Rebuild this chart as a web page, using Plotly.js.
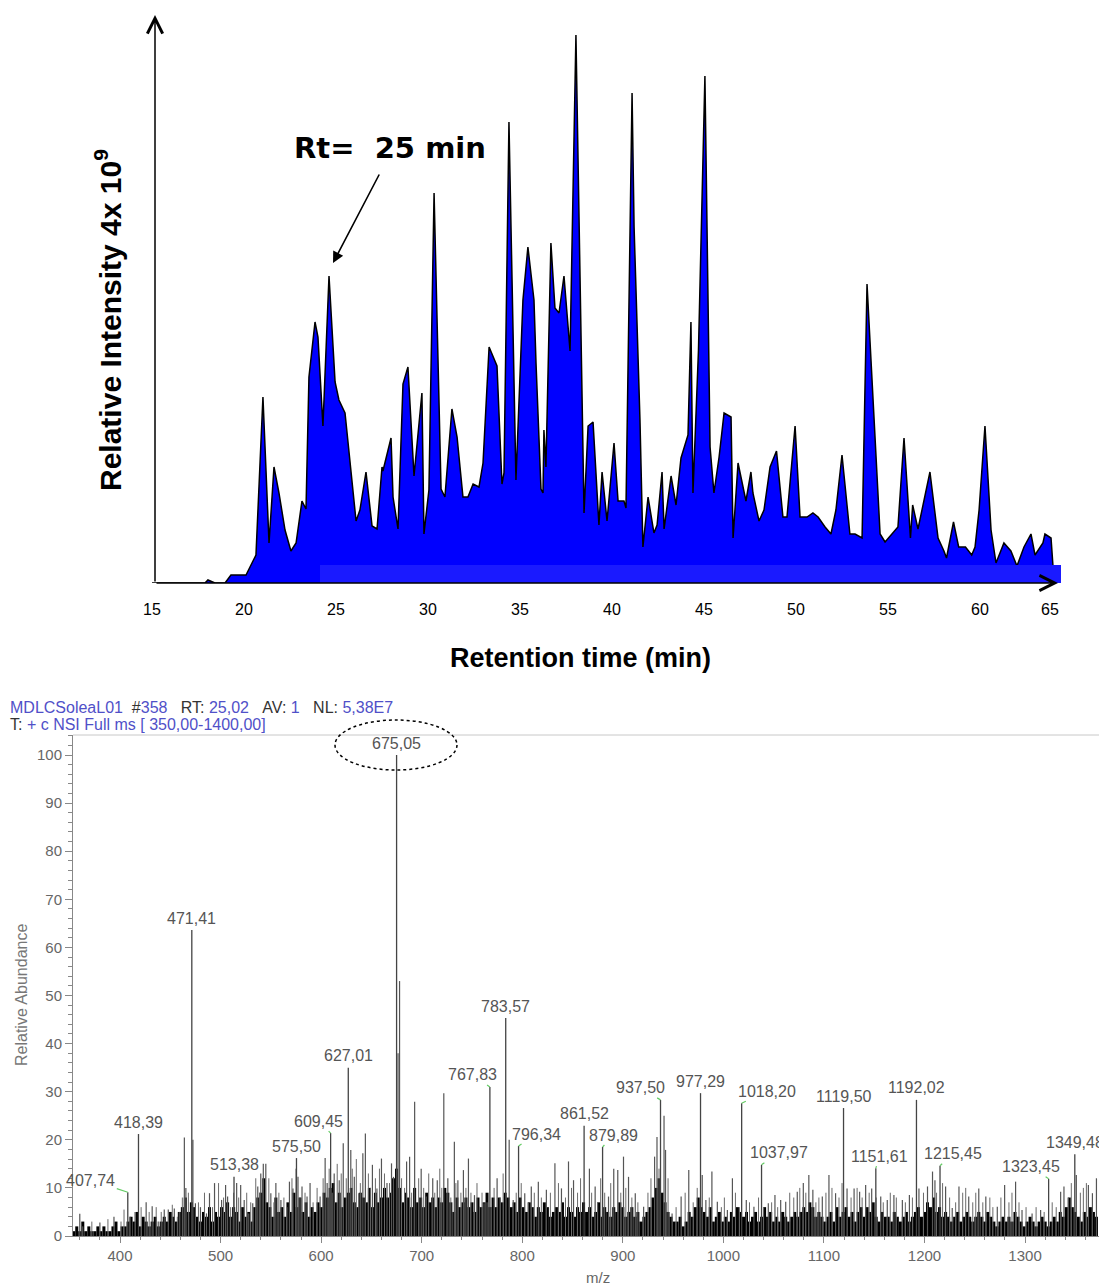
<!DOCTYPE html>
<html><head><meta charset="utf-8">
<script src="https://cdn.plot.ly/plotly-3.0.1.min.js"></script>
<style>html,body{margin:0;padding:0;background:#fff;} #chart{width:1099px;height:1287px;}</style>
</head><body><div id="chart"></div>
<script>
// ---------- Top: chromatogram ----------
const rtMin = [15,17.88,18.04,18.42,18.97,19.29,20.11,20.65,21.03,21.36,
21.63,21.90,22.23,22.55,22.83,23.15,23.37,23.53,23.86,24.02,
24.29,24.62,24.95,25.16,25.49,26.09,26.30,26.63,26.96,27.23,
27.50,27.55,27.99,28.10,28.37,28.64,28.91,29.24,29.67,29.78,
30.05,30.33,30.71,30.92,31.30,31.58,31.90,32.17,32.45,32.77,
32.99,33.32,33.75,34.02,34.13,34.40,34.78,35.16,35.43,35.76,
35.87,36.14,36.25,36.30,36.41,36.68,36.90,37.12,37.39,37.72,
38.04,38.48,38.70,38.97,39.29,39.46,39.73,40.11,40.33,40.65,
40.76,41.09,41.20,41.52,41.68,41.96,42.28,42.45,42.72,42.83,
43.21,43.48,43.75,44.13,44.29,44.40,44.70,45.05,45.33,45.54,
45.82,46.09,46.47,46.58,46.85,47.28,47.55,47.66,47.99,48.26,
48.59,48.94,49.29,49.51,49.95,50.22,50.60,50.92,51.20,51.58,
51.90,52.17,52.50,52.93,53.21,53.59,53.86,54.57,54.84,55.22,
55.54,55.87,56.22,56.34,56.63,57.28,57.72,58.04,58.18,58.56,
58.84,59.21,59.55,59.73,59.95,60.27,60.60,60.87,61.30,61.68,
62.01,62.39,62.77,62.99,63.42,63.53,63.86,63.97];
const intensity = [0,0,3,0,0,8,8,28,186,40,
116,90,53,32,40,82,74,206,261,246,
157,307,201,183,170,62,73,111,57,54,
116,112,145,86,54,199,216,107,190,49,
93,390,94,86,174,146,86,86,99,96,
120,236,217,99,110,461,103,283,336,283,
220,94,90,153,116,340,275,270,307,232,
548,70,157,161,58,111,62,140,82,82,
75,490,356,163,36,86,50,58,111,54,
107,78,125,148,261,90,233,507,136,90,
126,170,166,45,120,82,111,90,62,73,
116,132,66,66,157,66,66,70,66,56,
49,73,128,49,49,45,299,49,41,49,
56,145,45,78,54,111,45,32,25,61,
36,36,28,36,73,157,53,20,40,32,
17,36,49,28,40,49,45,16];
const rtTickVals = [15,20,25,30,35,40,45,50,55,60,63.8];
const rtTickText = ['15','20','25','30','35','40','45','50','55','60','65'];

// ---------- Bottom: mass spectrum ----------
const grassMz = [354,357,360,363,366,369,372,375,378,381,
384,387,390,393,396,399,402,405,408,411,
414,417,420,423,426,429,432,435,438,441,
444,447,450,453,456,459,462,465,468,471,
474,477,480,483,486,489,492,495,498,501,
504,507,510,513,516,519,522,525,528,531,
534,537,540,543,546,549,552,555,558,561,
564,567,570,573,576,579,582,585,588,591,
594,597,600,603,606,609,612,615,618,621,
624,627,630,633,636,639,642,645,648,651,
654,657,660,663,666,669,672,675,678,681,
684,687,690,693,696,699,702,705,708,711,
714,717,720,723,726,729,732,735,738,741,
744,747,750,753,756,759,762,765,768,771,
774,777,780,783,786,789,792,795,798,801,
804,807,810,813,816,819,822,825,828,831,
834,837,840,843,846,849,852,855,858,861,
864,867,870,873,876,879,882,885,888,891,
894,897,900,903,906,909,912,915,918,921,
924,927,930,933,936,939,942,945,948,951,
954,957,960,963,966,969,972,975,978,981,
984,987,990,993,996,999,1002,1005,1008,1011,
1014,1017,1020,1023,1026,1029,1032,1035,1038,1041,
1044,1047,1050,1053,1056,1059,1062,1065,1068,1071,
1074,1077,1080,1083,1086,1089,1092,1095,1098,1101,
1104,1107,1110,1113,1116,1119,1122,1125,1128,1131,
1134,1137,1140,1143,1146,1149,1152,1155,1158,1161,
1164,1167,1170,1173,1176,1179,1182,1185,1188,1191,
1194,1197,1200,1203,1206,1209,1212,1215,1218,1221,
1224,1227,1230,1233,1236,1239,1242,1245,1248,1251,
1254,1257,1260,1263,1266,1269,1272,1275,1278,1281,
1284,1287,1290,1293,1296,1299,1302,1305,1308,1311,
1314,1317,1320,1323,1326,1329,1332,1335,1338,1341,
1344,1347,1350,1353,1356,1359,1362,1365,1368,1371];
const grassVal = [1,2,1,3,1,2,1,1,2,1,
2,1,1,2,3,1,2,2,3,4,
3,5,2,4,3,2,3,4,2,3,
4,3,5,4,3,5,6,8,5,7,
6,4,3,5,4,6,3,5,4,6,
5,7,4,6,5,3,6,4,5,3,
6,8,9,12,7,6,4,8,5,6,
4,7,5,9,6,8,5,7,4,6,
5,7,6,9,8,10,11,7,9,6,
8,9,10,7,6,9,8,7,10,6,
9,7,8,10,8,9,12,14,10,7,
9,8,6,10,7,8,6,9,7,8,
6,8,7,10,9,7,5,8,6,7,
8,6,7,5,8,6,7,9,6,8,
6,8,7,9,8,6,7,5,8,6,
5,7,6,4,6,5,7,6,4,5,
6,5,7,4,6,5,4,6,5,7,
5,6,4,5,7,4,6,5,4,6,
5,7,6,4,5,6,4,5,3,4,
5,6,8,10,12,9,7,5,4,3,
3,4,2,3,5,4,6,8,6,5,
4,6,3,4,5,3,4,3,5,4,
6,5,4,5,3,4,5,3,4,6,
4,5,3,4,3,5,4,3,4,5,
4,5,6,5,7,6,4,5,4,3,
4,5,3,6,4,5,6,4,5,3,
5,6,4,6,5,7,4,3,5,4,
4,3,5,4,3,4,5,3,4,5,
6,4,5,7,6,8,5,6,4,5,
4,3,4,5,3,4,5,4,3,4,
5,4,3,5,4,3,2,3,4,3,
4,3,5,4,3,2,3,4,3,2,
3,4,3,2,3,4,3,5,4,6,
8,6,5,4,3,5,4,6,5,4];
const peakMz = [360,380,394,410,415,426,432,438,444,448,
454,459,464,465.5,472.5,475,480,486,489,494,
501,505,507,516,520,523.5,528,532,537,540,
542.5,545,550,555,560,568.5,572,577,581,586,
589,599,604,606,613,618,622,629.5,633,637.5,
641.5,644,651,655.5,660,665.5,670,672,676.5,678,
685,688,693,699.5,704.5,711,715.5,722,726,732.5,
736,741.5,746.5,752.5,757.5,762,769,775,787,791,
802.5,809,816,824,832.5,839,846,851,866.8,872.5,
885.8,891,895,900.7,905.7,912.4,920.7,931.6,934,941,
942.5,949,958,965.6,979,982.6,988.6,994,1004,1009,
1022.8,1030.4,1044.7,1051.3,1057,1062,1073.5,1079.5,1085,1089,
1098.4,1105,1111.6,1123,1130,1135.5,1141.5,1147.5,1156.5,1163,
1169.6,1178,1185,1194.5,1203,1208,1210.4,1221,1227.6,1234.3,
1244,1254,1261,1272.4,1279.7,1290.6,1297,1307,1315.5,1335.4,
1338.7,1351,1363,1367,1371];
const peakVal = [4.6,2.8,4,4,5,7,6.2,3,5.5,5.5,
5.7,5,20.5,10,20,6.8,6,4.7,8.9,11,
7.5,10.6,8.2,11,10.6,7.5,4.7,6.8,10.3,13,
15,15,8.9,11,7.5,11.3,9.9,12.3,10.3,8.2,
11,8.2,16.2,11,13,11.6,19.3,17.9,12.3,8.9,
17.2,21.3,14.8,9.9,16.1,11,15.1,12.3,38,53,
15.5,16.5,27.9,14,8.2,12,11.6,29.7,12,19.6,
11.6,13.7,16.1,8.5,6.1,6.8,6,12,20,7.5,
8.9,10.3,11.3,9.6,15.1,9.9,15.5,11.6,14,10.3,
8.2,14,13.7,16.5,12.3,8.9,6.1,16.5,20.6,25,
17.9,4.7,8.2,13.7,12.7,7.5,13.4,7.1,5.4,12,
7.5,6.1,6.8,8.5,7.5,7.1,9.2,11,12.7,9.6,
8.2,12.7,8.9,9.9,9.9,9.2,10.6,9.9,8.2,7.5,
8.5,7.5,8.5,9.9,10.3,13.4,11.6,10.3,5.8,10.3,
8.2,9.9,8.2,6.1,10.6,11.3,5.4,4.7,5.4,9.2,
10.3,12.7,10.6,8.9,12];
const minorMz = [363,372,388,401,404,421,429,436,441,452,
457,462,468,478,484,492,498,503,510,513,
518,526,530,535,539,548,553,558,563,566,
571,575,579,584,592,596,602,608,611,616,
620,625,631,635,639,647,649,654,658,663,
668,680,683,690,697,702,707,713,718,720,
729,734,739,744,749,755,760,765,772,778,
781,794,799,806,812,819,828,836,843,849,
855,858,869,875,878,882,888,898,903,909,
915,925,928,936,945,953,962,970,974,986,
998,1001,1012,1016,1026,1035,1040,1048,1054,1066,
1070,1076,1082,1092,1095,1102,1108,1115,1118,1127,
1133,1138,1145,1152,1159,1166,1172,1181,1188,1199,
1212,1218,1225,1231,1238,1241,1248,1251,1258,1265,
1268,1276,1284,1287,1294,1301,1311,1319,1327,1331,
1343,1346,1355,1358,1361];
const minorVal = [2,3,3.5,3,5.5,6,5,6,5,6.5,
4,8,9,7,9,6,11,8,6,9,
8,9,7,12,9,12,7,9,8,6,
12,14,8,9,7,10,12,14,9,15,
13,12,14,16,11,13,10,12,14,13,
11,12,10,9,12,10,13,9,14,10,
8,11,9,10,9,11,9,7,10,8,
13,9,11,7,9,8,9,11,8,10,
9,12,9,7,12,9,11,9,10,8,
7,9,12,14,12,6,9,7,10,8,
6,8,9,6,7,8,6,7,6,9,
8,10,9,7,8,9,10,8,11,8,
10,8,9,8,7,9,8,7,8,9,
9,11,8,7,9,10,7,9,7,8,
6,8,7,9,7,6,6,5,7,6,
8,11,9,10,11];
const labelMz = [675.05,471.41,783.57,627.01,767.83,418.39,609.45,937.50,977.29,1018.20,1119.50,1192.02,861.52,796.34,879.89,575.50,1037.97,513.38,1151.61,1215.45,407.74,1323.45,1349.48];
const labelVal = [100,63.6,45.3,35,31,21.2,21.4,28.3,29.7,27.6,26.6,28.3,22.9,18.7,18.5,16.2,14.8,12.3,14.1,14.6,9.1,11.9,17];
const labelShiftPx = [0,0,0,0,-17,0,-12,-20,0,25,0,0,0,18,11,0,17,0,4,13,-37,-18,0];

// ---------- helpers ----------
const W = 1099, H = 1287;
const px = v => v / W, py = v => 1 - v / H;
const rt = x => 15 + (x - 152) / 18.4;           // top: pixel -> minutes (layout only)
function sticks(xs, ys) {
  const X = [], Y = [];
  xs.forEach((m, i) => { X.push(m, m, null); Y.push(0, ys[i], null); });
  return {X, Y};
}
const mn = sticks(minorMz, minorVal);
const pk = sticks(peakMz, peakVal);
const lb = sticks(labelMz, labelVal);
const ARIAL = 'Arial, Liberation Sans, sans-serif';
const BLUE = '#5050c8', DK = '#333';

const traces = [
  {x: rtMin, y: intensity, type: 'scatter', mode: 'lines', fill: 'tozeroy',
   fillcolor: '#0000ff', line: {color: '#000', width: 1.5}, xaxis: 'x', yaxis: 'y', hoverinfo: 'skip'},
  {x: mn.X, y: mn.Y, type: 'scatter', mode: 'lines', line: {color: '#6a6a6a', width: 1},
   xaxis: 'x2', yaxis: 'y2', hoverinfo: 'skip'},
  {x: grassMz, y: grassVal, type: 'bar', width: 3, marker: {color: '#000', line: {width: 0}},
   xaxis: 'x2', yaxis: 'y2', hoverinfo: 'skip'},
  {x: pk.X, y: pk.Y, type: 'scatter', mode: 'lines', line: {color: '#555', width: 1.2},
   xaxis: 'x2', yaxis: 'y2', hoverinfo: 'skip'},
  {x: lb.X, y: lb.Y, type: 'scatter', mode: 'lines', line: {color: '#444', width: 1.3},
   xaxis: 'x2', yaxis: 'y2', hoverinfo: 'skip'}
];

const nb = '\u00a0';
const sp = (c, t) => `<span style="color:${c}">${t}</span>`;
const gap = nb + nb + nb;
const header1 = sp(BLUE, 'MDLCSoleaL01' + nb + nb) + sp(DK, '#') + sp(BLUE, '358') + gap +
  sp(DK, 'RT:') + nb + sp(BLUE, '25,02') + gap + sp(DK, 'AV:') + nb + sp(BLUE, '1') + gap +
  sp(DK, 'NL:') + nb + sp(BLUE, '5,38E7');
const header2 = sp(DK, 'T:') + nb + sp(BLUE, '+ c NSI Full ms [ 350,00-1400,00]');

const annotations = [
  {xref: 'paper', yref: 'paper', x: px(108), y: py(320), xanchor: 'center', yanchor: 'middle',
   text: '<b>Relative Intensity 4x 10<sup>9</sup></b>',
   textangle: -90, showarrow: false, font: {family: ARIAL, size: 30, color: '#000'}},
  {xref: 'paper', yref: 'paper', x: px(580), y: py(658), xanchor: 'center', yanchor: 'middle',
   text: '<b>Retention time (min)</b>',
   showarrow: false, font: {family: ARIAL, size: 27, color: '#000'}},
  {xref: 'paper', yref: 'paper', x: px(390), y: py(148), xanchor: 'center', yanchor: 'middle',
   text: '<b>Rt=' + nb + nb + '25 min</b>',
   showarrow: false, font: {family: 'DejaVu Sans, sans-serif', size: 29, color: '#000', weight: 'bold'}},
  {xref: 'x', yref: 'y', x: rt(333), y: 583 - 263, ax: 47, ay: -90, text: '', showarrow: true,
   arrowhead: 2, arrowwidth: 1.6, arrowsize: 1.4, arrowcolor: '#000'},
  {xref: 'x', yref: 'y', x: rt(1058), y: 0, ax: -903, ay: 0, text: '', showarrow: true,
   arrowhead: 5, arrowwidth: 1.5, arrowsize: 2, arrowcolor: '#000'},
  {xref: 'x', yref: 'y', x: rt(155), y: 568, ax: 0, ay: 568, text: '', showarrow: true,
   arrowhead: 5, arrowwidth: 1.5, arrowsize: 2, arrowcolor: '#000'},
  {xref: 'paper', yref: 'paper', x: px(8), y: py(707), xanchor: 'left', yanchor: 'middle',
   text: header1, showarrow: false, font: {family: ARIAL, size: 16}},
  {xref: 'paper', yref: 'paper', x: px(8), y: py(725), xanchor: 'left', yanchor: 'middle',
   text: header2, showarrow: false, font: {family: ARIAL, size: 16}},
  {xref: 'paper', yref: 'paper', x: px(22), y: py(995), xanchor: 'center', yanchor: 'middle',
   text: 'Relative Abundance', textangle: -90,
   showarrow: false, font: {family: ARIAL, size: 16, color: '#777'}},
  {xref: 'paper', yref: 'paper', x: px(598), y: py(1277), xanchor: 'center', yanchor: 'middle',
   text: 'm/z', showarrow: false, font: {family: ARIAL, size: 15, color: '#666'}}
];
labelMz.forEach((m, i) => {
  annotations.push({xref: 'x2', yref: 'y2', x: m, y: labelVal[i], text: m.toFixed(2).replace('.', ','),
    showarrow: true, arrowhead: 0, arrowwidth: 1.2, ax: labelShiftPx[i], ay: -12, standoff: 0,
    arrowcolor: labelShiftPx[i] ? '#66cc66' : 'rgba(0,0,0,0)',
    font: {family: ARIAL, size: 16, color: '#555'}});
});

const shapes = [
  {type: 'rect', xref: 'x', yref: 'y', x0: rt(320), x1: rt(1061), y0: 0, y1: 18,
   fillcolor: '#1a1aff', line: {width: 0}, layer: 'above'},
  {type: 'line', xref: 'paper', yref: 'paper', x0: px(73), x1: 1, y0: py(735), y1: py(735),
   line: {color: '#c8c8c8', width: 1}},
  {type: 'circle', xref: 'paper', yref: 'paper', x0: px(335), x1: px(457), y0: py(770), y1: py(720),
   line: {color: '#000', width: 1.5, dash: 'dot'}}
];

const layout = {
  width: W, height: H, margin: {l: 0, r: 0, t: 0, b: 0},
  paper_bgcolor: '#fff', plot_bgcolor: 'rgba(0,0,0,0)', showlegend: false,
  font: {family: ARIAL},
  barmode: 'overlay',
  xaxis: {domain: [px(140), px(1070)], range: [rt(140), rt(1070)], anchor: 'y',
    showline: false, zeroline: false, showgrid: false, tickmode: 'array',
    tickvals: rtTickVals, ticktext: rtTickText, ticks: 'outside', ticklen: 12,
    tickcolor: 'rgba(0,0,0,0)', tickfont: {family: ARIAL, size: 16, color: '#000'}},
  yaxis: {domain: [py(583), py(15)], range: [0, 568], anchor: 'x', visible: false},
  xaxis2: {domain: [px(73), 1], range: [400 - 47 / 1.0056, 400 + 979 / 1.0056], anchor: 'y2',
    showline: true, linecolor: '#888', linewidth: 1, zeroline: false, showgrid: false,
    tick0: 0, dtick: 100, ticks: 'outside', ticklen: 6, tickcolor: '#888',
    minor: {dtick: 20, ticks: 'outside', ticklen: 3, tickcolor: '#888', showgrid: false},
    tickfont: {family: ARIAL, size: 15, color: '#666'}},
  yaxis2: {domain: [py(1236), py(735)], range: [0, (1236 - 735) / 4.81], anchor: 'x2',
    showline: true, linecolor: '#888', linewidth: 1, zeroline: false, showgrid: false,
    tick0: 0, dtick: 10, ticks: 'outside', ticklen: 7, tickcolor: '#888',
    minor: {dtick: 2, ticks: 'outside', ticklen: 4, tickcolor: '#888', showgrid: false},
    tickfont: {family: ARIAL, size: 15, color: '#666'}},
  annotations, shapes
};

Plotly.newPlot('chart', traces, layout, {staticPlot: true, displayModeBar: false});
</script>
</body></html>
